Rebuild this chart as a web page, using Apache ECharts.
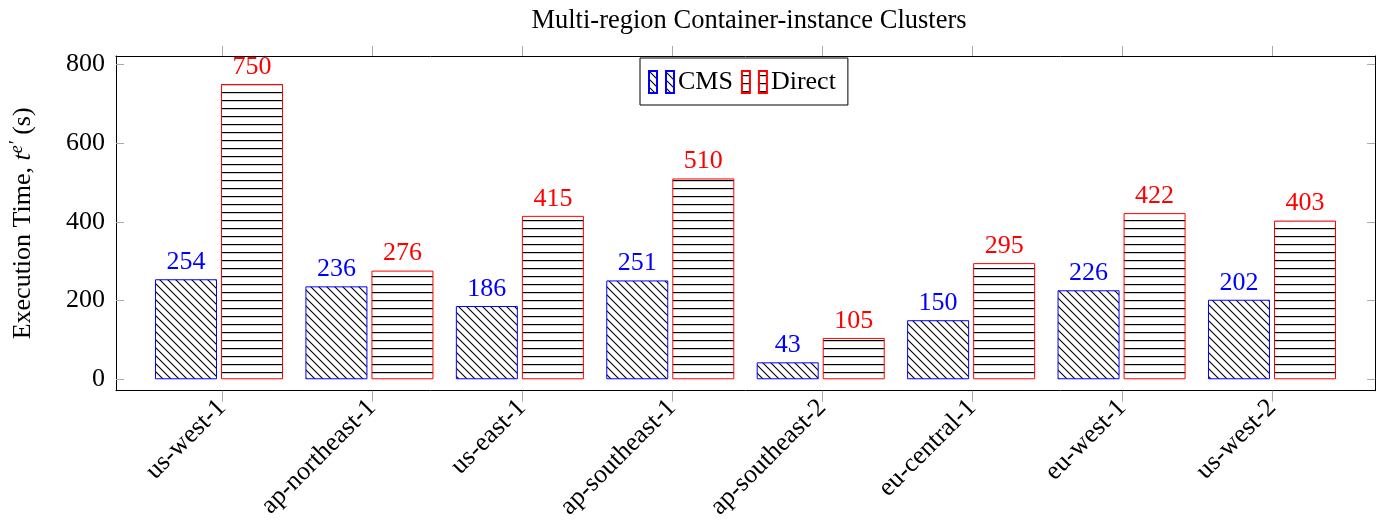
<!DOCTYPE html>
<html><head><meta charset="utf-8">
<script src="https://cdn.jsdelivr.net/npm/echarts@6/dist/echarts.min.js"></script>
<style>html,body{margin:0;padding:0;background:#fff}#c{width:1390px;height:523px}</style>
</head><body><div id="c"></div>
<script>
const categories = ['us-west-1','ap-northeast-1','us-east-1','ap-southeast-1','ap-southeast-2','eu-central-1','eu-west-1','us-west-2'];
const cmsValues = [254,236,186,251,43,150,226,202];
const directValues = [750,276,415,510,105,295,422,403];
const yTicks = [0,200,400,600,800];
const catTicks = [0,1,2,3,4,5,6,7];

function makePattern(type){
  const c=document.createElement('canvas'); c.width=8; c.height=8;
  const g=c.getContext('2d');
  g.fillStyle='#fff'; g.fillRect(0,0,8,8);
  g.strokeStyle='#000'; g.lineWidth=1.1;
  g.beginPath();
  if(type==='diag'){
    g.moveTo(-1,-1); g.lineTo(9,9);
    g.moveTo(-1,7); g.lineTo(1,9);
    g.moveTo(7,-1); g.lineTo(9,1);
    g.stroke();
  } else {
    g.fillStyle='#000'; g.fillRect(0,4,8,1.2);
  }
  return c;
}
const FONT='Liberation Serif';
const FS=26;
const chart=echarts.init(document.getElementById('c'),null,{renderer:'canvas'});
const tickStyle={color:'#aaa',width:1};
chart.setOption({
  animation:false,
  backgroundColor:'#fff',
  textStyle:{fontFamily:FONT},
  title:{text:'Multi-region Container-instance Clusters',left:744,textAlign:'center',top:3,
    textStyle:{fontFamily:FONT,fontWeight:'normal',fontSize:26.5,color:'#000'}},
  legend:{left:640,top:58,orient:'horizontal',borderColor:'#000',borderWidth:1,padding:[11,12,10,8],
    itemGap:8,itemWidth:25,itemHeight:22,
    icon:'path://M0,0H8V22H0Z M17,0H25V22H17Z',
    textStyle:{fontFamily:FONT,fontSize:FS,color:'#000',padding:[0,0,0,-1]}},
  grid:[
    {left:113,right:15,top:56,bottom:132.3},
    {left:143.8,width:1203.4,top:56,bottom:132.3}
  ],
  xAxis:[
    {gridIndex:0,type:'value',min:-0.705,max:7.685,position:'bottom',
      axisLine:{show:true,onZero:false,lineStyle:{color:'#000',width:1}},splitLine:{show:false},
      axisTick:{show:true,customValues:catTicks,inside:false,length:11,lineStyle:tickStyle},
      axisLabel:{customValues:catTicks,formatter:v=>categories[Math.round(v)],rotate:45,fontSize:FS,margin:13,color:'#000',fontFamily:FONT}},
    {gridIndex:0,type:'value',min:-0.705,max:7.685,position:'top',
      axisLine:{show:true,onZero:false,lineStyle:{color:'#000',width:1}},splitLine:{show:false},
      axisTick:{show:true,customValues:catTicks,inside:false,length:10,lineStyle:tickStyle},
      axisLabel:{show:false}},
    {gridIndex:1,type:'category',data:categories,show:false}
  ],
  yAxis:[
    {gridIndex:0,type:'value',min:-29,max:821,position:'left',
      axisLine:{show:true,onZero:false,lineStyle:{color:'#000',width:1}},splitLine:{show:false},
      axisTick:{show:true,customValues:yTicks,inside:true,length:8,lineStyle:tickStyle},
      axisLabel:{customValues:yTicks,fontSize:FS,margin:11,color:'#000',fontFamily:FONT},
      name:'Execution Time, {it|t}{sup|e′} (s)',nameLocation:'middle',nameGap:78,
      nameTextStyle:{fontFamily:FONT,fontSize:FS,color:'#000',
        rich:{it:{fontFamily:FONT,fontSize:FS,fontStyle:'italic',color:'#000'},
              sup:{fontFamily:FONT,fontSize:18,fontStyle:'italic',color:'#000',padding:[0,0,12,0]}}}},
    {gridIndex:0,type:'value',min:-29,max:821,position:'right',
      axisLine:{show:true,onZero:false,lineStyle:{color:'#000',width:1}},splitLine:{show:false},
      axisTick:{show:true,customValues:yTicks,inside:true,length:8,lineStyle:tickStyle},
      axisLabel:{show:false}},
    {gridIndex:1,type:'value',min:-29,max:821,show:false}
  ],
  series:[
    {name:'CMS',type:'bar',xAxisIndex:2,yAxisIndex:2,data:cmsValues,barWidth:62,barGap:'6.5%',
      itemStyle:{color:{image:makePattern('diag'),repeat:'repeat'},borderColor:'#0000ff',borderWidth:1},
      label:{show:true,position:'top',distance:4,fontSize:FS,color:'#0000ff',fontFamily:FONT}},
    {name:'Direct',type:'bar',xAxisIndex:2,yAxisIndex:2,data:directValues,barWidth:62,
      itemStyle:{color:{image:makePattern('horiz'),repeat:'repeat'},borderColor:'#ff0000',borderWidth:1},
      label:{show:true,position:'top',distance:4,fontSize:FS,color:'#ff0000',fontFamily:FONT}}
  ]
});
</script></body></html>
